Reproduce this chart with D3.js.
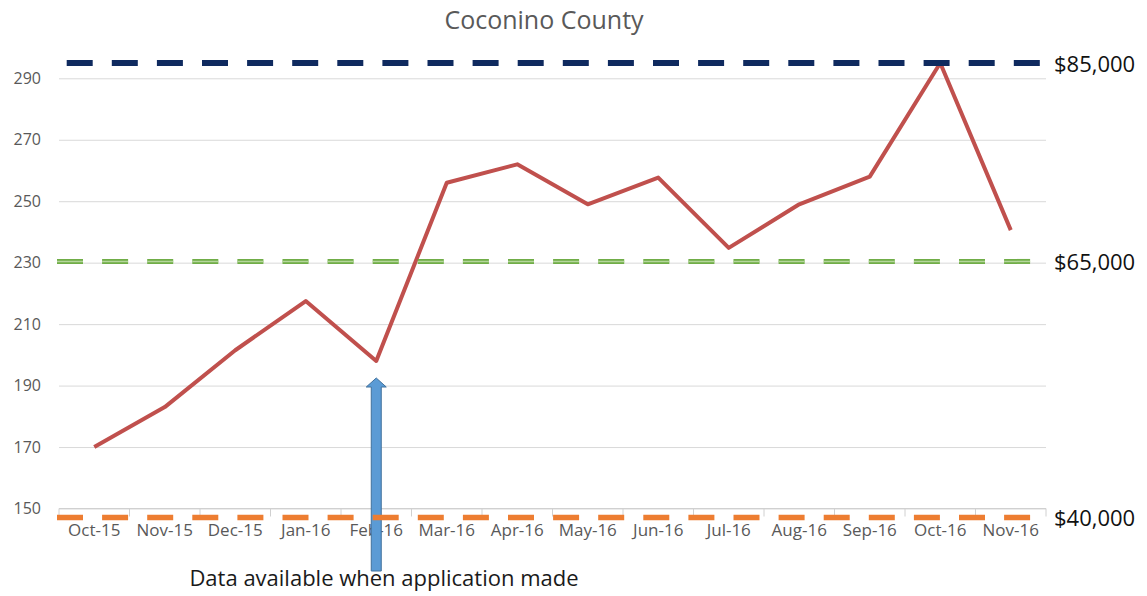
<!DOCTYPE html>
<html>
<head>
<meta charset="utf-8">
<style>
    body { margin: 0; background: #fff; }
    svg { display: block; font-family: "Open Sans", sans-serif; }
</style>
</head>
<body>
    <div class="graph"></div>

    <script src="https://d3js.org/d3.v7.min.js"></script>
    <script>
        var months = ['Oct-15', 'Nov-15', 'Dec-15', 'Jan-16', 'Feb-16', 'Mar-16', 'Apr-16',
            'May-16', 'Jun-16', 'Jul-16', 'Aug-16', 'Sep-16', 'Oct-16', 'Nov-16']
        var values = [170, 183, 201.5, 217.5, 198, 256, 262, 249, 257.7, 234.8, 249, 258, 295, 240.6]
        var yTicks = [150, 170, 190, 210, 230, 250, 270, 290]

        // income reference lines
        var refValues = [295, 230.4, 147.1]
        var refLabels = ['$85,000', '$65,000', '$40,000']
        var refColors = ['#0f2a5f', '#70ad47', '#ed7d31']

        var arrowMonth = 'Feb-16'
        var arrowText = 'Data available when application made'
        var title = 'Coconino County'

        var width = 1147,
            height = 596,
            left = 59,
            right = 1046

        var x = d3.scaleBand()
            .domain(months)
            .range([left, right])

        var cx = function (d) { return x(d) + x.bandwidth() / 2 }

        var y = d3.scaleLinear()
            .domain([150, 290])
            .range([508.5, 78.3])

        var svg = d3.select('.graph').append('svg')
            .attr('width', width)
            .attr('height', height)

        svg.append('text')
            .attr('x', 544)
            .attr('y', 19)
            .attr('dominant-baseline', 'central')
            .attr('text-anchor', 'middle')
            .style('font-size', '25px')
            .style('fill', '#595959')
            .text(title)

        // gridlines + y labels
        var y_axis = svg.append('g')
            .attr('transform', 'translate(' + left + ',0)')
            .call(d3.axisLeft(y).tickValues(yTicks).tickSize(-(right - left)).tickPadding(18))
        y_axis.select('.domain').remove()
        y_axis.selectAll('line').style('stroke', '#d9d9d9')
        y_axis.selectAll('text')
            .style('font-size', '16px')
            .style('fill', '#595959')
            .style('font-family', '"Open Sans", sans-serif')

        // category axis
        var x_axis = svg.append('g')
        x_axis.append('line')
            .attr('x1', left).attr('x2', right)
            .attr('y1', y(150)).attr('y2', y(150))
            .style('stroke', '#d0d0d0')
        x_axis.selectAll('.tick')
            .data(months.concat(['end']))
            .enter().append('line')
            .attr('x1', function (d, i) { return left + i * x.step() })
            .attr('x2', function (d, i) { return left + i * x.step() })
            .attr('y1', y(150))
            .attr('y2', y(150) + 8)
            .style('stroke', '#d0d0d0')
        x_axis.selectAll('.lbl')
            .data(months)
            .enter().append('text')
            .attr('x', cx)
            .attr('y', 529)
            .attr('dominant-baseline', 'central')
            .attr('text-anchor', 'middle')
            .style('font-size', '17px')
            .style('fill', '#595959')
            .text(function (d) { return d })

        // series
        var line = d3.line()
            .x(function (d, i) { return cx(months[i]) })
            .y(function (d) { return y(d) })

        svg.append('path')
            .datum(values)
            .attr('d', line)
            .style('fill', 'none')
            .style('stroke', '#c0504d')
            .style('stroke-width', 4)
            .style('stroke-linejoin', 'round')

        // arrow
        var ax = cx(arrowMonth)
        var tipY = y(values[months.indexOf(arrowMonth)]) + 17
        var baseY = 571
        svg.append('path')
            .attr('d', 'M' + (ax - 5) + ',' + baseY +
                'L' + (ax - 5) + ',' + (tipY + 9) +
                'L' + (ax - 10) + ',' + (tipY + 9) +
                'L' + ax + ',' + tipY +
                'L' + (ax + 10) + ',' + (tipY + 9) +
                'L' + (ax + 5) + ',' + (tipY + 9) +
                'L' + (ax + 5) + ',' + baseY + 'Z')
            .style('fill', '#5b9bd5')
            .style('stroke', '#41719c')
            .style('stroke-width', 1)

        svg.append('text')
            .attr('x', 384)
            .attr('y', 586)
            .attr('text-anchor', 'middle')
            .style('font-size', '22px')
            .style('fill', '#1a1a1a')
            .text(arrowText)

        // reference lines
        var starts = [66.7, 57, 57]
        var widths = [6, 5, 5.5]
        refValues.forEach(function (v, i) {
            svg.append('line')
                .attr('x1', starts[i]).attr('x2', right)
                .attr('y1', y(v)).attr('y2', y(v))
                .style('stroke', refColors[i])
                .style('stroke-width', widths[i])
                .style('stroke-dasharray', '26,19.1')
            if (i === 1) {
                svg.append('line')
                    .attr('x1', starts[i]).attr('x2', right)
                    .attr('y1', y(v)).attr('y2', y(v))
                    .style('stroke', '#b5d69c')
                    .style('stroke-width', 1.5)
                    .style('stroke-dasharray', '26,19.1')
            }
            svg.append('text')
                .attr('x', 1054)
                .attr('y', y(v))
                .attr('dominant-baseline', 'central')
                .style('font-size', '22px')
                .style('fill', '#111')
                .text(refLabels[i])
        })
    </script>
</body>
</html>
